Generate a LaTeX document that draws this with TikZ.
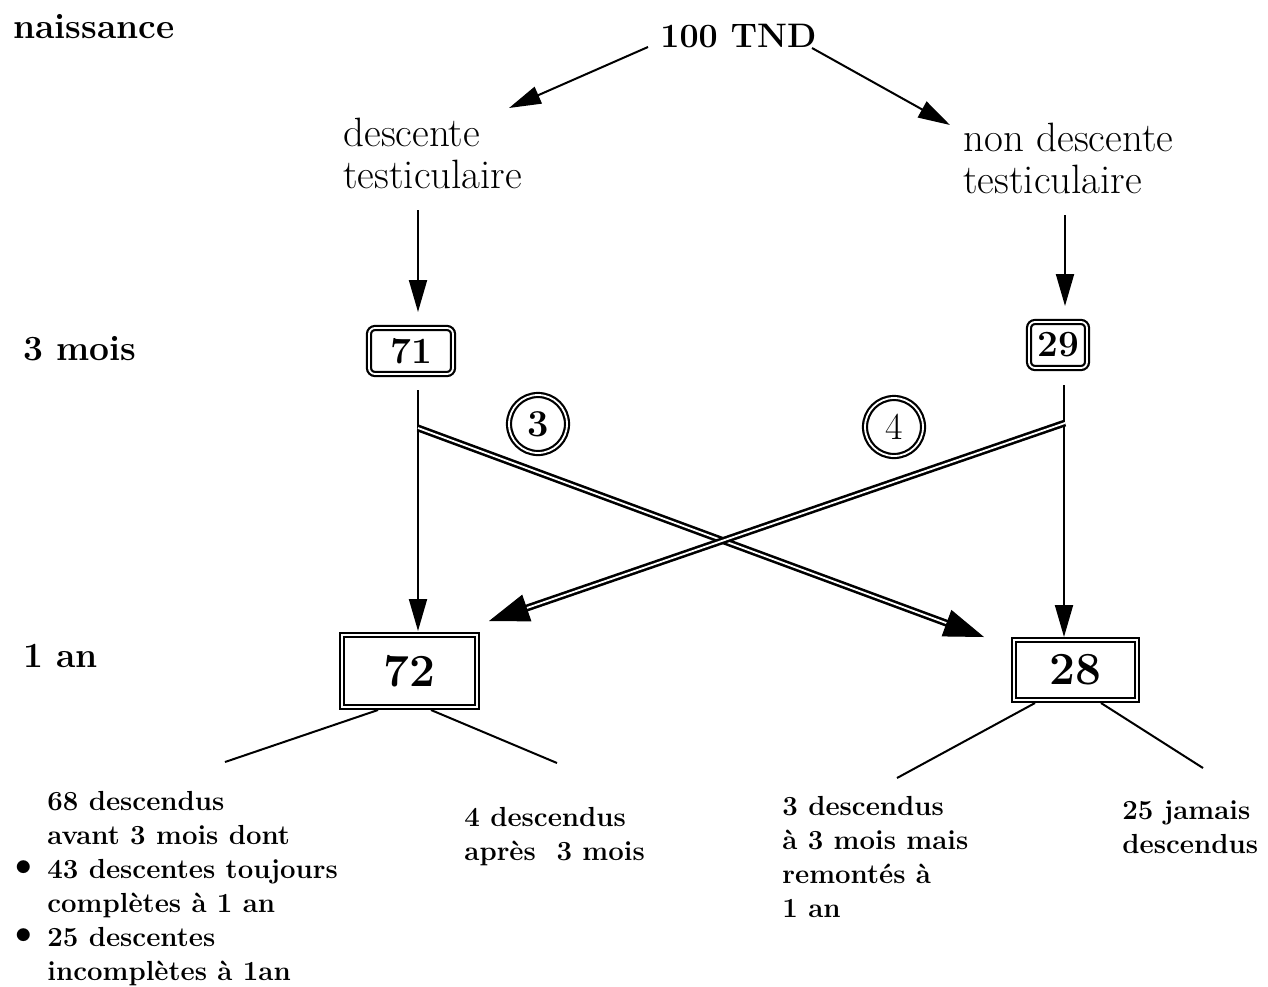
\documentclass[tikz,border=0pt]{standalone}
\usetikzlibrary{arrows.meta,calc}
\newcommand{\bigbullet}{\llap{\raisebox{0.05ex}{\fontsize{22}{22}\selectfont\textbullet}\,}}
\begin{document}
\begin{tikzpicture}[x=0.5pt,y=-0.5pt,
  lbl/.style={inner sep=0pt, anchor=base west, align=left},
  bigtxt/.style={font=\fontsize{20.5}{21}\selectfont},
  smallbold/.style={font=\bfseries\fontsize{13.8}{17}\selectfont},
  sidelbl/.style={font=\bfseries\fontsize{17.7}{19}\selectfont},
  rbox/.style={draw, double, double distance=0.9pt, line width=1.1pt, rounded corners=3pt, inner sep=0pt, font=\bfseries\fontsize{18.5}{20}\selectfont},
  sbox/.style={draw, double, double distance=0.9pt, line width=1.1pt, inner sep=0pt, font=\bfseries\fontsize{23}{26}\selectfont},
  dcirc/.style={draw, circle, double, double distance=0.9pt, line width=1.1pt, inner sep=0pt, minimum size=29pt, font=\fontsize{19}{20}\selectfont},
  arr/.style={line width=1pt, -{Triangle[length=16pt,width=9pt]}},
  dbl/.style={double, double distance=0.9pt, line width=1.3pt},
  bigtip/.style={line width=0.5pt, -{Triangle[length=20pt,width=14pt]}},
  plain/.style={line width=1pt}
]
\useasboundingbox (0,0) rectangle (1268,986);

% left side labels
\node[lbl, sidelbl] (nais) at (13,38) {naissance};
\node[lbl, sidelbl] (trois) at (23,360) {3 mois};
\node[lbl, sidelbl] (unan) at (23,667) {1 an};

% top
\node[lbl, font=\bfseries\fontsize{17}{20}\selectfont] (tnd) at (660,47) {100 TND};
\node[lbl, bigtxt] (desc) at (343,188) {descente\\testiculaire};
\node[lbl, bigtxt] (nondesc) at (963,193) {non descente\\testiculaire};

\coordinate (tndL) at (648,47);
\coordinate (tndR) at (812,48);
\coordinate (descT) at (509,108);
\coordinate (nondescT) at (950,125);
\draw[arr] (tndL) -- (descT);
\draw[arr] (tndR) -- (nondescT);

% boxes
\node[rbox, minimum width=42pt, minimum height=23pt] (b71) at (411,351) {71};
\node[rbox, minimum width=29pt, minimum height=23pt] (b29) at (1058,345) {29};
\node[sbox, minimum width=67.5pt, minimum height=36pt] (b72) at (409.5,671) {72};
\node[sbox, minimum width=61.5pt, minimum height=30pt] (b28) at (1075.5,670) {28};

% vertical arrows into 3-month boxes
\coordinate (dA) at (418,210);
\coordinate (dB) at (418,312);
\coordinate (nA) at (1065,215);
\coordinate (nB) at (1065,306);
\draw[arr] (dA) -- (dB);
\draw[arr] (nA) -- (nB);

% vertical arrows into 1-year boxes
\coordinate (v71) at (418,390);
\coordinate (v72) at (418,631);
\coordinate (v29) at (1064,385);
\coordinate (v28) at (1064,637);
\draw[arr] (v71) -- (v72);
\draw[arr] (v29) -- (v28);

% crossing double arrows
\coordinate (x1s) at (418,428);
\coordinate (x1e) at (984,637);
\coordinate (x2s) at (1065,423);
\coordinate (x2e) at (489,621);
\draw[dbl] (x1s) -- ($(x1e)!18pt!(x1s)$);
\draw[bigtip] ($(x1e)!19pt!(x1s)$) -- (x1e);
\draw[dbl] (x2s) -- ($(x2e)!18pt!(x2s)$);
\draw[bigtip] ($(x2e)!19pt!(x2s)$) -- (x2e);

% circles
\node[dcirc, font=\bfseries\fontsize{19}{20}\selectfont] (c3) at (538,424) {3};
\node[dcirc] (c4) at (894,427) {4};

% branches
\coordinate (l72a) at (378,710);
\coordinate (l72b) at (225,762);
\coordinate (r72a) at (431,710);
\coordinate (r72b) at (557,763);
\coordinate (l28a) at (1035,703);
\coordinate (l28b) at (897,778);
\coordinate (r28a) at (1101,703);
\coordinate (r28b) at (1203,768);
\draw[plain] (l72a) -- (l72b);
\draw[plain] (r72a) -- (r72b);
\draw[plain] (l28a) -- (l28b);
\draw[plain] (r28a) -- (r28b);

% bottom texts (anchored at the baseline of their last line)
\node[lbl, smallbold] (t68) at (47,980) {68 descendus\\avant 3 mois dont\\\bigbullet 43 descentes toujours\\complètes à 1 an\\\bigbullet 25 descentes\\incomplètes à 1an};
\node[lbl, smallbold] (t4) at (464,860) {4 descendus\\après\ \ 3 mois};
\node[lbl, smallbold] (t3) at (782,917) {3 descendus\\à 3 mois mais\\remontés à\\1 an};
\node[lbl, smallbold] (t25) at (1122,853) {25 jamais\\descendus};
\end{tikzpicture}
\end{document}
